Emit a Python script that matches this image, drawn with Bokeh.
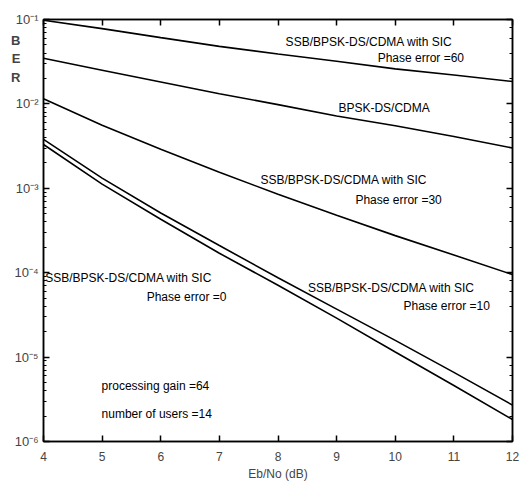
from bokeh.plotting import figure
from bokeh.models import (Range1d, LinearAxis, LogAxis, CustomJSTickFormatter,
                          ColumnDataSource, LogTicker, SingleIntervalTicker, FixedTicker)
from bokeh.embed import file_html
from bokeh.resources import INLINE
from bokeh.core.properties import value

# ---- data ----
ebno = [4, 5, 6, 7, 8, 9, 10, 11, 12]
ber_sic_pe60 = [9.8e-2, 7.8e-2, 6.1e-2, 4.8e-2, 3.9e-2, 3.2e-2, 2.6e-2, 2.2e-2, 1.84e-2]
ber_bpsk = [3.47e-2, 2.51e-2, 1.82e-2, 1.32e-2, 9.8e-3, 7.2e-3, 5.5e-3, 4.1e-3, 3.0e-3]
ber_sic_pe30 = [1.15e-2, 5.6e-3, 2.9e-3, 1.55e-3, 8.5e-4, 4.8e-4, 2.75e-4, 1.62e-4, 9.5e-5]
ber_sic_pe10 = [3.8e-3, 1.32e-3, 5.1e-4, 2.1e-4, 8.7e-5, 3.7e-5, 1.58e-5, 6.6e-6, 2.7e-6]
ber_sic_pe0 = [3.3e-3, 1.12e-3, 4.3e-4, 1.7e-4, 7.1e-5, 2.9e-5, 1.15e-5, 4.6e-6, 1.82e-6]

x_label = "Eb/No (dB)"
y_label_letters = ["R", "E", "B"]   # bottom to top

ann_texts = ["SSB/BPSK-DS/CDMA with SIC", "Phase error =60",
             "BPSK-DS/CDMA",
             "SSB/BPSK-DS/CDMA with SIC", "Phase error =30",
             "SSB/BPSK-DS/CDMA with SIC", "Phase error =0",
             "SSB/BPSK-DS/CDMA with SIC", "Phase error =10",
             "processing gain =64", "number of users =14"]
# annotation anchor positions (layout)
ann_x = [8.13, 9.70, 9.03, 7.70, 9.32, 4.03, 5.76, 8.51, 10.14, 4.99, 4.99]
ann_logy = [-1.27, -1.46, -2.05, -2.90, -3.14, -4.06, -4.29, -4.18, -4.40, -5.34, -5.67]

FONT = "Liberation Sans"
XMIN, XMAX, YMIN, YMAX = 4, 12, 1e-6, 1e-1

p = figure(width=520, height=483, output_backend="svg", toolbar_location=None,
           x_axis_type="linear", y_axis_type="log",
           x_range=Range1d(XMIN, XMAX), y_range=Range1d(YMIN, YMAX),
           min_border_left=43, min_border_right=8, min_border_top=19,
           min_border_bottom=42)
p.outline_line_color = "black"
p.outline_line_width = 1.5
p.xgrid.grid_line_color = None
p.ygrid.grid_line_color = None

sup_js = """
const m = {'-':'\u207b','0':'\u2070','1':'\u00b9','2':'\u00b2','3':'\u00b3','4':'\u2074','5':'\u2075','6':'\u2076','7':'\u2077','8':'\u2078','9':'\u2079'};
const e = Math.round(Math.log10(tick)).toString();
let s = '';
for (const c of e) { s += m[c]; }
return '10' + s;
"""

# bottom axis (default tickers kept; inward ticks)
xa = p.xaxis[0]
xa.ticker.desired_num_ticks = 9
xa.ticker.num_minor_ticks = 0
xa.major_tick_in = 6
xa.major_tick_out = 0
xa.major_tick_line_width = 1.5
xa.major_tick_line_color = "black"
xa.minor_tick_in = 0
xa.minor_tick_out = 0
xa.axis_line_width = 1.5
xa.axis_label = x_label
xa.axis_label_text_font = FONT
xa.axis_label_text_font_style = "normal"
xa.axis_label_text_font_size = "12px"
xa.axis_label_standoff = 3
xa.major_label_text_font = FONT
xa.major_label_text_font_size = "12px"
xa.major_label_standoff = 10

# left axis
ya = p.yaxis[0]
ya.formatter = CustomJSTickFormatter(code=sup_js)
ya.major_tick_in = 6
ya.major_tick_out = 0
ya.major_tick_line_width = 1.5
ya.major_tick_line_color = "black"
ya.minor_tick_in = 3
ya.minor_tick_out = 0
ya.minor_tick_line_color = "black"
ya.axis_line_width = 1.5
ya.major_label_text_font = FONT
ya.major_label_text_font_size = "13px"
ya.major_label_standoff = 5

# stacked "B E R" label: an extra, line-less left axis whose tick labels are the letters
ber_logy = [-1.69, -1.46, -1.25]
ber_axis = LogAxis(ticker=FixedTicker(ticks=[10 ** v for v in ber_logy], minor_ticks=[]),
                   formatter=CustomJSTickFormatter(
                       code="return %s[index];" % str(y_label_letters)),
                   axis_line_color=None, major_tick_line_color=None,
                   minor_tick_line_color=None, major_tick_in=0, major_tick_out=0,
                   minor_tick_in=0, minor_tick_out=0,
                   major_label_standoff=-9,
                   major_label_text_font=FONT, major_label_text_font_size="13px",
                   major_label_text_font_style="bold")
p.add_layout(ber_axis, "left")

top = LinearAxis(ticker=SingleIntervalTicker(interval=1, num_minor_ticks=0),
                 formatter=CustomJSTickFormatter(code="return '';"),
                 major_tick_in=6, major_tick_out=0, major_tick_line_width=1.5,
                 minor_tick_in=0, minor_tick_out=0, major_label_standoff=0,
                 axis_line_width=1.5)
p.add_layout(top, "above")

right = LogAxis(ticker=LogTicker(), formatter=CustomJSTickFormatter(code="return '';"),
                major_tick_in=6, major_tick_out=0, major_tick_line_width=1.5,
                minor_tick_in=3, minor_tick_out=0, major_label_standoff=0,
                axis_line_width=1.5)
p.add_layout(right, "right")

# curves
for ys in [ber_sic_pe60, ber_bpsk, ber_sic_pe30, ber_sic_pe10, ber_sic_pe0]:
    p.line(ebno, ys, line_color="black", line_width=1.6)

# annotations
src = ColumnDataSource(dict(x=ann_x, y=[10 ** v for v in ann_logy], t=ann_texts))
p.text(x="x", y="y", text="t", source=src, text_font=value(FONT),
       text_font_size="12px", text_align="left", text_baseline="middle",
       text_color="black")

open("out.html", "w").write(file_html(p, INLINE))
